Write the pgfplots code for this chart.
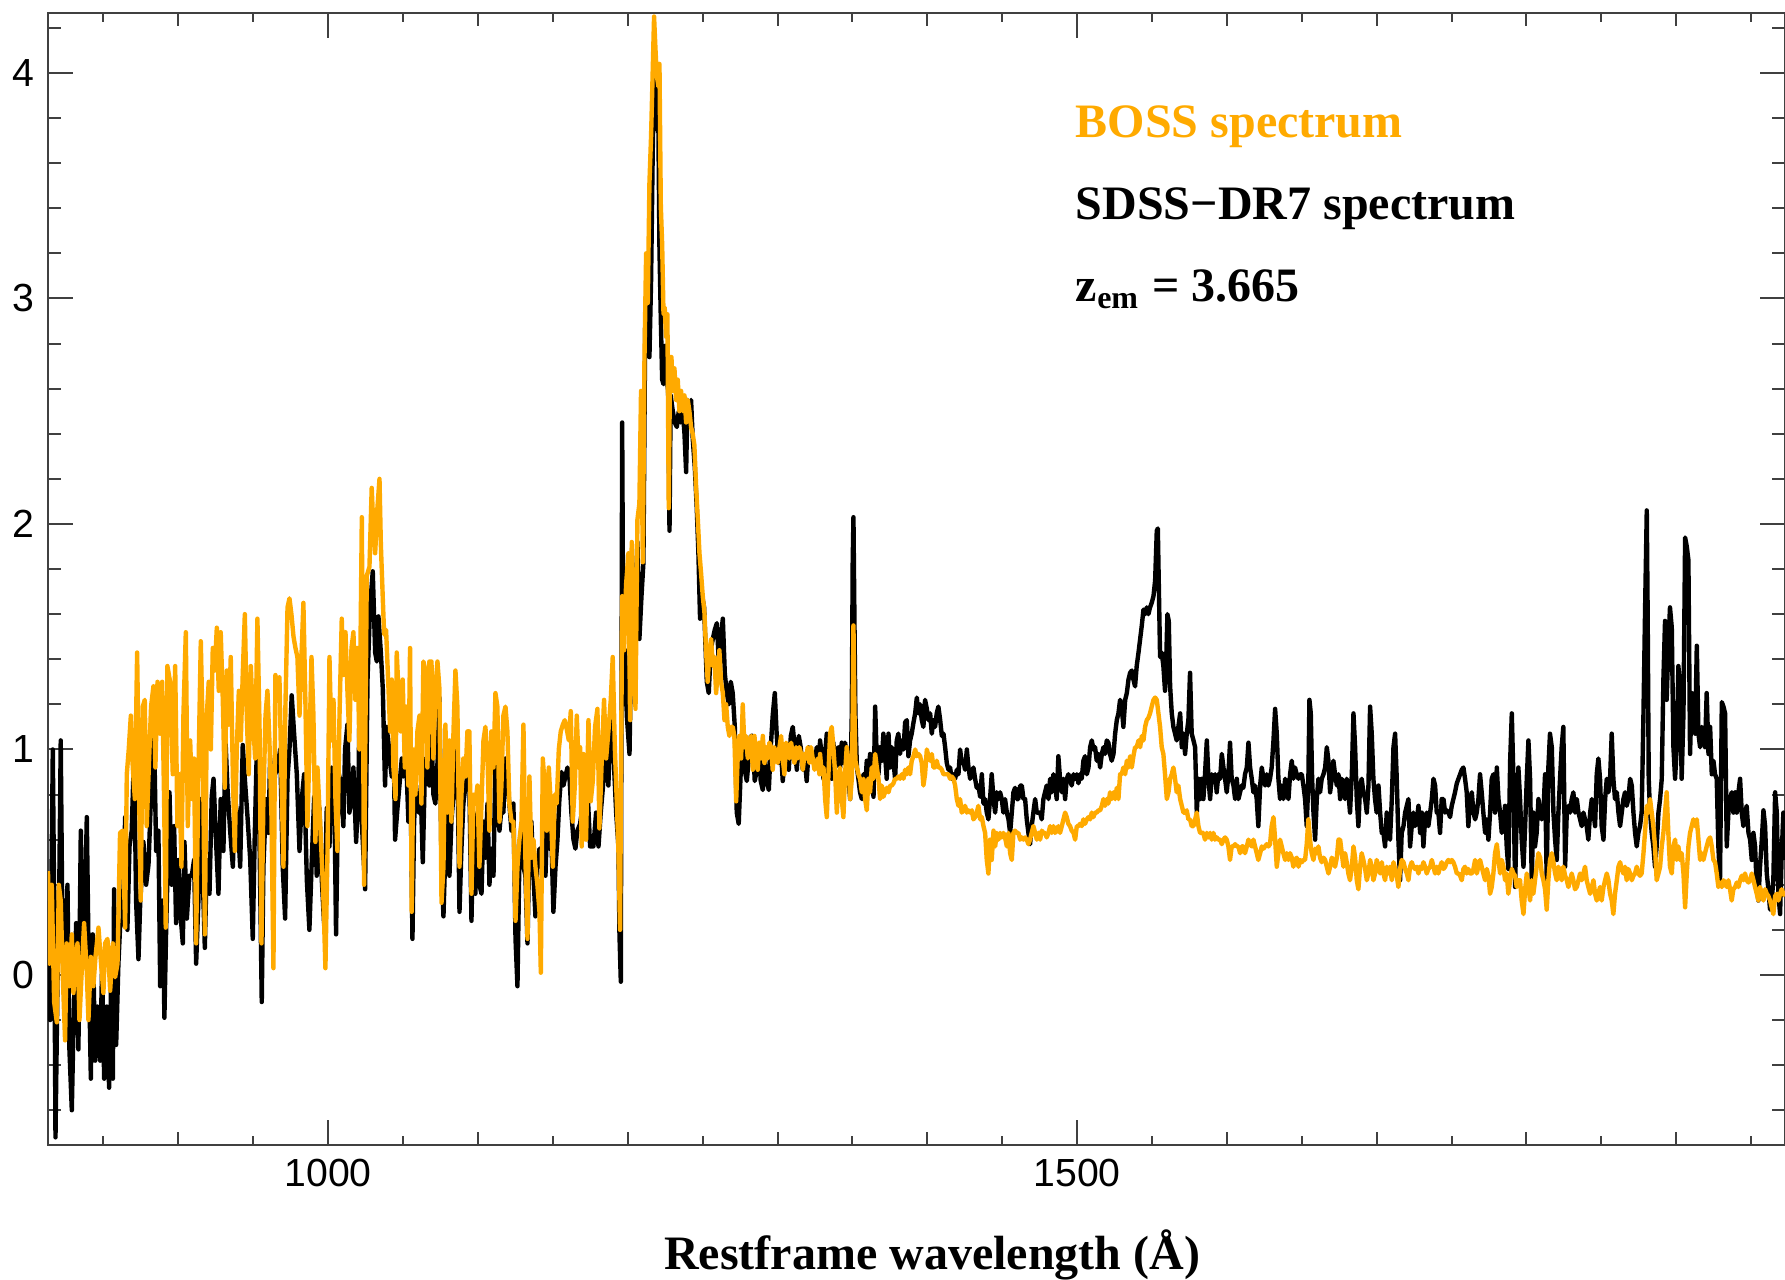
\documentclass[border=0pt]{standalone}
\usepackage{fontspec}
\setmainfont{Liberation Serif}
\setsansfont{Liberation Sans}
\usepackage{pgfplots}
\pgfplotsset{compat=1.18}
\definecolor{bossorange}{RGB}{255,170,0}
\begin{document}
\begin{tikzpicture}
\path[use as bounding box] (-12pt,-33.75pt) rectangle (434.25pt,286.25pt);
\begin{axis}[
 at={(0,0)}, anchor=south west,
 scale only axis, width=434.25pt, height=283pt,
 xmin=813, xmax=1972.6, ymin=-0.754, ymax=4.266,
 axis line style={black!75, line width=0.5pt},
 tick align=inside,
 xtick={1000,1500},
 minor xtick={900,1100,1200,1300,1400,1600,1700,1800,1900},
 extra x ticks={850,950,1050,1150,1250,1350,1450,1550,1650,1750,1850,1950},
 extra x tick labels={},
 extra x tick style={major tick length=2.25pt},
 ytick={0,1,2,3,4},
 minor ytick={-0.6,-0.4,-0.2,0.2,0.4,0.6,0.8,1.2,1.4,1.6,1.8,2.2,2.4,2.6,2.8,3.2,3.4,3.6,3.8,4.2},
 major tick length=6.3pt, minor tick length=3.25pt,
 tick style={black!75, line width=0.5pt},
 ticklabel style={font=\sffamily\fontsize{9.8}{11}\selectfont},
 /pgf/number format/assume math mode=true,
 /pgf/number format/1000 sep={},
 xlabel={Restframe wavelength (Å)},
 xlabel style={font=\bfseries\fontsize{12}{14}\selectfont, at={(axis description cs:0.509,0)}, anchor=base, yshift=-31.25pt},
]
% SDSS-DR7 spectrum (black)
\addplot[black, line width=1.1pt, line join=round, mark=none] coordinates {
(813.3,0.33)(814.4,-0.20)(816.2,1.00)(817.1,0.33)(818.0,-0.72)(819.3,-0.05)(820.6,0.44)(821.5,1.04)(822.7,0.14)(823.8,0.33)
(825.1,0.10)(826.0,0.40)(827.3,-0.33)(828.9,-0.60)(830.0,-0.23)(831.8,0.23)(833.3,-0.33)(834.9,0.64)(836.2,0.14)(837.8,0.33)
(838.9,0.70)(840.0,0.14)(841.6,-0.46)(842.9,0.18)(844.5,-0.38)(846.0,-0.14)(847.8,-0.38)(849.1,0.03)(850.5,-0.46)(852.2,-0.14)
(853.8,-0.50)(855.1,-0.05)(856.3,-0.46)(857.1,0.38)(858.5,-0.31)(860.0,0.05)(861.1,0.21)(862.9,0.25)(864.5,0.70)(866.0,0.20)
(867.4,0.57)(868.9,0.64)(870.5,1.00)(871.8,0.33)(873.4,0.07)(874.5,0.31)(876.7,0.59)(878.5,0.40)(880.1,0.49)(882.3,0.89)
(883.8,1.07)(885.2,0.55)(886.7,0.64)(887.9,-0.05)(889.6,0.33)(890.7,-0.19)(891.9,0.21)(894.1,0.81)(895.6,0.40)(897.2,0.66)
(898.5,0.23)(900.1,0.51)(901.2,0.29)(903.0,0.14)(904.1,0.59)(905.7,0.25)(907.4,0.44)(909.0,0.44)(910.5,0.51)(911.9,0.05)
(913.4,0.33)(915.0,0.78)(916.3,0.44)(917.7,0.12)(919.0,0.51)(920.8,0.36)(922.3,0.79)(923.5,0.87)(925.2,0.59)(926.8,0.36)
(928.3,0.78)(930.1,0.55)(931.5,1.04)(932.8,0.83)(934.6,0.64)(936.4,0.48)(937.9,0.78)(939.5,0.70)(941.3,0.48)(943.0,1.02)
(944.6,0.85)(946.2,0.70)(948.0,0.51)(949.7,0.16)(951.0,0.61)(952.8,1.11)(954.2,0.61)(955.7,-0.12)(956.8,0.48)(958.6,0.78)
(960.2,0.63)(961.3,0.96)(963.1,0.76)(964.6,0.89)(966.2,0.92)(968.0,1.00)(969.7,0.48)(971.3,0.25)(972.9,0.87)(974.2,1.00)
(975.7,1.24)(977.3,1.07)(979.1,0.89)(980.9,0.55)(982.4,0.78)(984.0,0.89)(985.8,0.42)(987.5,0.20)(989.1,0.51)(990.7,0.79)
(992.4,0.44)(994.2,0.74)(995.8,0.42)(997.3,0.23)(999.1,0.74)(1000.9,0.57)(1002.4,0.92)(1004.0,0.89)(1005.3,0.18)(1006.9,0.90)
(1008.5,0.85)(1010.2,0.66)(1011.3,1.00)(1012.9,1.11)(1014.2,0.72)(1015.8,0.79)(1016.9,0.92)(1018.7,0.59)(1020.2,0.81)
(1021.4,1.43)(1022.5,0.68)(1024.7,0.38)(1026.3,1.31)(1028.0,1.63)(1029.8,1.79)(1031.4,1.43)(1032.5,1.39)(1033.6,1.59)(1035.2,1.43)
(1036.5,1.27)(1038.0,0.84)(1039.2,1.10)(1041.0,0.96)(1042.5,0.88)(1043.6,1.08)(1044.7,0.60)(1046.3,0.74)(1047.6,0.84)(1049.2,0.96)
(1050.3,0.88)(1052.1,0.96)(1053.6,0.68)(1055.2,0.76)(1056.3,0.16)(1057.4,0.68)(1058.7,0.84)(1060.3,0.72)(1061.9,0.80)(1063.2,0.50)
(1064.8,0.96)(1066.3,0.90)(1067.6,0.84)(1069.0,1.08)(1070.3,0.80)(1071.6,0.76)(1073.0,0.94)(1074.3,1.23)(1075.7,0.48)(1077.0,0.26)
(1078.3,0.56)(1079.7,0.72)(1081.0,0.44)(1082.3,0.68)(1083.7,0.80)(1085.0,1.08)(1086.3,0.96)(1087.7,0.28)(1089.0,0.56)(1090.3,0.76)
(1091.7,0.84)(1093.0,0.88)(1094.3,0.84)(1095.7,0.24)(1097.0,0.68)(1098.3,0.36)(1099.7,0.72)(1101.0,0.40)(1102.4,0.36)(1103.7,0.68)
(1105.0,0.52)(1106.4,0.76)(1107.7,0.40)(1109.0,0.56)(1110.4,0.44)(1111.7,0.96)(1113.0,0.74)(1114.4,0.64)(1115.7,0.74)(1117.0,0.72)
(1118.4,0.96)(1119.7,0.86)(1121.0,0.76)(1122.4,0.64)(1123.7,0.76)(1125.1,0.16)(1126.4,-0.05)(1127.7,0.52)(1129.1,0.64)(1130.4,0.48)
(1131.7,0.44)(1133.1,0.14)(1134.4,0.58)(1135.7,0.68)(1137.1,0.44)(1138.4,0.26)(1139.7,0.48)(1141.1,0.56)(1142.4,0.48)(1143.7,0.68)
(1145.1,0.44)(1146.4,0.72)(1147.8,0.56)(1149.1,0.60)(1150.4,0.28)(1151.8,0.48)(1153.1,0.60)(1154.4,0.78)(1155.8,0.90)(1157.1,0.84)
(1158.4,0.88)(1159.8,0.92)(1161.1,0.88)(1162.4,0.72)(1163.8,0.60)(1165.1,0.56)(1166.4,0.64)
(1168.2,0.67)(1170.4,0.77)(1172.7,0.89)(1174.9,0.57)(1177.1,0.57)(1178.9,0.72)(1180.5,0.57)(1182.0,0.72)(1183.8,0.86)(1185.6,1.01)
(1187.1,0.84)(1188.7,1.20)(1190.5,0.98)(1192.3,0.72)(1193.8,0.57)(1194.5,0.18)(1195.4,-0.03)(1196.3,2.45)(1197.2,1.20)(1198.3,1.44)
(1199.4,1.15)(1201.2,0.98)(1202.3,1.44)(1203.8,1.73)(1205.2,1.68)(1206.5,1.92)(1207.8,1.49)(1209.2,1.68)(1210.5,1.83)(1211.8,2.98)
(1213.4,3.00)(1214.5,2.74)(1215.6,3.08)(1216.7,3.65)(1217.6,3.99)(1218.5,3.96)(1219.4,3.75)(1220.5,3.75)(1221.2,3.22)(1222.1,2.91)
(1223.0,2.64)(1223.9,2.62)(1225.0,2.79)(1226.1,2.64)(1227.0,2.59)(1227.9,1.97)(1228.7,2.57)(1230.1,2.50)(1231.4,2.45)(1232.8,2.43)
(1234.1,2.50)(1235.4,2.45)(1236.8,2.50)(1237.9,2.40)(1239.0,2.23)(1239.9,2.55)(1241.2,2.50)(1242.3,2.55)(1243.4,2.38)(1244.8,2.25)
(1246.1,2.07)(1247.2,1.87)(1248.3,1.58)(1249.7,1.68)(1251.0,1.63)(1252.8,1.30)(1254.1,1.25)(1255.4,1.44)(1256.8,1.49)(1258.1,1.53)
(1259.5,1.56)(1260.8,1.39)(1262.1,1.49)(1263.5,1.58)(1264.8,1.34)(1266.1,1.25)(1267.5,1.20)(1268.8,1.30)(1270.1,1.25)(1271.5,1.10)
(1272.8,0.72)(1274.1,0.67)(1275.5,0.91)(1276.8,1.01)(1278.1,0.91)(1279.5,0.86)(1280.8,0.96)(1282.2,1.06)(1283.5,1.06)(1284.8,0.86)
(1286.2,0.91)(1287.5,1.01)(1288.8,0.86)(1290.2,0.82)(1291.5,0.96)(1292.8,0.86)(1294.2,0.82)(1295.5,1.01)(1296.8,1.15)(1298.2,1.25)
(1299.5,1.06)(1300.8,0.94)(1302.2,1.01)(1303.5,0.86)(1304.8,0.96)(1306.2,1.01)(1307.5,0.91)(1308.9,1.06)(1310.2,1.10)(1311.5,1.01)
(1312.9,0.91)(1314.2,1.06)(1315.5,1.01)(1316.9,0.91)(1318.2,0.96)(1319.5,0.86)(1320.9,1.01)(1322.2,0.96)(1323.5,0.98)(1324.9,0.94)
(1326.2,1.01)(1327.6,0.91)
(1328.4,1.04)(1329.6,0.97)(1330.7,0.87)(1331.8,0.98)(1332.9,1.07)(1334.0,0.89)(1335.1,1.01)(1336.2,0.87)(1337.3,1.03)(1338.5,0.92)
(1339.6,1.00)(1340.7,1.01)(1341.8,0.92)(1342.9,1.03)(1344.0,0.94)(1345.1,1.03)(1346.2,0.98)(1347.4,0.87)(1348.5,0.78)(1349.6,1.16)
(1350.2,1.83)(1350.7,2.03)(1351.4,1.55)(1352.0,1.16)(1353.0,0.92)(1354.0,0.87)(1355.1,0.81)(1356.3,0.78)(1357.4,0.89)(1358.5,0.83)
(1359.6,0.95)(1360.7,0.87)(1361.8,0.98)(1362.9,0.87)(1364.1,0.79)(1365.2,1.19)(1366.3,0.95)(1367.4,0.89)(1368.5,1.01)(1369.6,0.95)
(1370.7,1.07)(1371.8,0.98)(1372.9,0.87)(1374.1,1.07)(1375.2,0.92)(1376.3,1.01)(1377.4,0.95)(1378.5,0.87)(1379.6,1.04)(1380.7,1.07)
(1381.8,0.98)(1383.0,1.04)(1384.1,1.00)(1385.2,1.12)(1386.3,1.13)(1387.4,0.97)(1388.5,1.04)(1389.6,1.07)(1390.8,1.12)(1391.9,1.16)
(1393.0,1.23)(1394.1,1.16)(1395.2,1.20)(1396.3,1.13)(1397.4,1.10)(1398.5,1.22)(1399.7,1.18)(1400.8,1.13)(1401.9,1.16)(1403.0,1.07)
(1404.1,1.13)(1405.2,1.10)(1406.3,1.16)(1407.4,1.19)(1408.6,1.13)(1409.7,1.06)(1410.8,1.07)(1411.9,1.01)(1413.0,0.94)(1414.1,0.91)
(1415.2,0.92)(1416.3,0.87)(1417.5,0.89)(1418.6,0.87)(1419.7,0.91)(1420.8,0.89)(1421.9,1.00)(1423.0,0.94)(1424.1,0.95)(1425.2,0.91)
(1426.4,1.00)(1427.5,0.92)(1428.6,0.87)(1429.7,0.89)(1430.8,0.92)(1431.9,0.87)(1433.0,0.83)(1434.1,0.84)(1435.3,0.79)(1436.4,0.89)
(1437.5,0.76)(1438.6,0.78)(1439.7,0.72)(1440.8,0.69)(1441.9,0.78)(1443.0,0.89)(1444.2,0.78)(1445.3,0.72)(1446.4,0.81)(1447.5,0.78)
(1448.6,0.81)(1449.7,0.78)(1450.8,0.72)(1451.9,0.78)(1453.1,0.72)(1454.2,0.69)(1455.3,0.63)(1456.4,0.72)(1457.5,0.81)(1458.6,0.83)
(1459.7,0.78)(1460.8,0.78)(1462.0,0.84)(1463.1,0.84)(1464.2,0.78)(1465.3,0.78)(1466.4,0.69)(1467.5,0.63)(1468.6,0.58)(1469.7,0.66)
(1470.8,0.72)(1472.0,0.78)(1473.1,0.72)(1474.2,0.72)(1475.3,0.72)(1476.4,0.69)(1477.5,0.78)(1478.6,0.81)(1479.7,0.84)(1480.9,0.78)
(1482.0,0.87)(1483.1,0.81)(1484.2,0.89)(1485.3,0.84)(1486.4,0.78)(1487.5,0.97)(1488.6,0.87)(1489.8,0.81)(1490.9,0.87)(1492.0,0.78)
(1493.1,0.87)(1494.2,0.89)(1495.3,0.87)(1496.4,0.84)(1497.6,0.89)(1498.7,0.87)(1499.8,0.89)(1500.9,0.85)(1502.0,0.89)(1503.1,0.87)
(1504.2,0.95)(1505.3,0.97)(1506.5,0.89)(1507.6,0.92)(1508.7,1.01)(1509.8,1.04)(1510.9,1.00)(1512.0,1.01)(1513.1,0.95)(1514.2,0.98)
(1515.4,0.92)(1516.5,0.98)(1517.6,1.01)(1518.7,0.98)(1519.8,1.04)(1520.9,1.03)(1522.0,0.98)(1523.1,0.95)(1524.3,0.98)(1525.4,1.07)
(1526.5,1.13)(1527.6,1.16)(1528.7,1.22)(1529.8,1.19)(1530.9,1.10)(1532.1,1.22)(1533.2,1.25)(1534.3,1.31)(1535.4,1.34)(1536.5,1.35)
(1537.6,1.31)(1538.7,1.28)(1539.8,1.37)(1541.0,1.43)(1542.1,1.49)(1543.2,1.55)(1544.3,1.62)(1545.4,1.60)(1546.5,1.63)(1547.6,1.60)
(1548.7,1.63)(1549.8,1.65)(1551.0,1.68)(1552.1,1.75)(1553.2,1.97)(1553.9,1.98)(1554.5,1.75)(1555.4,1.41)
(1556.5,1.43)(1557.6,1.37)(1558.7,1.26)(1559.4,1.37)(1560.3,1.60)(1561.2,1.57)(1562.1,1.28)(1563.2,1.16)(1564.3,1.10)(1565.4,1.07)
(1566.5,1.04)(1567.6,1.10)(1568.8,1.16)(1569.9,1.01)(1571.0,1.07)(1572.1,0.98)(1573.2,1.07)(1574.3,1.13)(1575.4,1.34)(1576.5,1.07)
(1577.7,1.04)(1578.8,1.01)(1579.9,0.72)(1581.0,0.87)(1582.1,0.78)(1583.2,0.87)(1584.3,0.78)(1585.4,0.89)(1586.6,1.04)(1587.7,0.87)
(1588.8,0.78)(1589.9,0.89)(1591.0,0.87)(1592.1,0.89)(1593.2,0.81)(1594.3,0.89)(1595.5,0.87)(1596.6,0.98)(1597.7,0.92)(1598.8,0.87)
(1599.9,0.81)(1601.0,0.89)(1602.1,1.03)(1603.2,0.87)(1604.4,0.84)(1605.5,0.78)(1606.6,0.87)(1607.7,0.78)(1608.8,0.81)(1609.9,0.84)
(1611.0,0.83)(1612.1,0.89)(1613.3,0.92)(1614.4,1.03)(1615.5,0.92)(1616.6,0.87)(1617.7,0.81)(1618.8,0.84)(1619.9,0.78)(1621.0,0.66)
(1622.2,0.84)(1623.3,0.92)(1624.4,0.87)(1625.5,0.84)(1626.6,0.89)(1627.7,0.84)(1628.8,0.87)(1629.9,0.92)(1631.1,1.04)(1632.2,1.18)
(1633.3,1.07)(1634.4,0.87)(1635.5,0.78)(1636.6,0.84)(1637.7,0.78)(1638.9,0.87)(1640.0,0.81)(1641.1,0.78)(1642.2,0.89)(1643.3,0.95)
(1644.4,0.87)(1645.5,0.92)(1646.6,0.89)(1647.8,0.87)(1648.9,0.89)(1650.0,0.89)(1651.1,0.84)(1652.2,0.78)(1653.3,0.66)(1654.4,0.87)
(1655.1,1.22)(1656.0,1.16)(1656.9,0.87)(1657.8,0.72)(1658.9,0.60)(1660.0,0.78)(1661.1,0.87)(1662.2,0.81)(1663.3,0.87)(1664.5,0.89)
(1665.6,0.92)(1666.7,1.01)(1667.8,0.95)(1668.9,0.81)(1670.0,0.87)(1671.1,0.95)(1672.2,0.89)(1673.4,0.84)(1674.5,0.89)(1675.6,0.78)
(1676.7,0.87)(1677.8,0.84)(1678.9,0.78)(1680.0,0.87)(1681.1,0.81)(1682.2,0.72)(1683.4,0.89)(1684.5,1.16)(1685.6,1.01)(1686.7,0.78)
(1687.8,0.66)(1688.9,0.84)(1690.0,0.87)(1691.1,0.81)(1692.3,0.78)(1693.4,0.72)(1694.5,0.84)(1695.6,1.19)(1696.7,1.07)(1697.8,0.87)
(1698.9,0.78)(1700.0,0.72)(1701.2,0.84)(1702.3,0.72)(1703.4,0.63)(1704.5,0.63)(1705.6,0.57)(1706.7,0.72)(1707.8,0.63)(1708.9,0.60)
(1710.1,0.78)(1711.2,1.01)(1712.3,1.07)(1713.4,0.87)(1714.5,0.60)(1715.6,0.42)(1716.7,0.63)(1717.9,0.66)(1719.0,0.72)(1720.1,0.75)
(1721.2,0.78)(1722.3,0.57)(1723.4,0.66)(1724.5,0.72)(1725.6,0.66)(1726.8,0.69)(1727.9,0.75)(1729.0,0.63)(1730.1,0.72)(1731.2,0.57)
(1732.3,0.69)(1733.4,0.72)(1734.5,0.66)(1735.7,0.72)(1736.8,0.78)(1737.9,0.87)(1739.0,0.84)(1740.1,0.72)(1741.2,0.72)(1742.3,0.63)
(1743.4,0.78)(1744.6,0.78)(1745.7,0.72)(1746.8,0.73)(1747.9,0.72)(1749.0,0.70)(1750.1,0.75)(1751.2,0.78)(1752.3,0.81)(1753.5,0.85)
(1754.6,0.87)(1755.7,0.89)(1756.8,0.91)(1757.9,0.92)(1759.0,0.87)(1760.1,0.81)(1761.2,0.66)(1762.3,0.78)
(1763.5,0.81)(1764.6,0.72)(1765.7,0.69)(1766.8,0.72)(1767.9,0.78)(1769.0,0.89)(1770.1,0.81)(1771.2,0.72)(1772.4,0.63)(1773.5,0.69)
(1774.6,0.60)(1775.7,0.72)(1776.8,0.87)(1777.9,0.89)(1779.0,0.72)(1780.2,0.92)(1781.3,0.78)(1782.4,0.72)(1783.5,0.63)(1784.6,0.66)
(1785.7,0.75)(1786.8,0.57)(1787.9,0.47)(1789.1,0.95)(1790.2,1.16)(1791.3,0.87)(1792.4,0.39)(1793.5,0.72)(1794.6,0.92)(1795.7,0.78)
(1796.8,0.60)(1798.0,0.48)(1799.1,0.66)(1800.2,0.87)(1801.3,1.04)(1802.4,0.87)(1803.5,0.42)(1804.6,0.72)(1805.7,0.57)(1806.8,0.63)
(1808.0,0.78)(1809.1,0.72)(1810.2,0.69)(1811.3,0.72)(1812.4,0.89)(1813.5,0.42)(1814.6,0.92)(1815.7,1.07)(1816.9,1.01)(1818.0,0.72)
(1819.1,0.60)(1820.2,0.51)(1821.3,0.72)(1822.4,0.87)(1823.5,1.01)(1824.6,1.10)(1825.8,0.48)(1826.9,0.72)(1828.0,0.75)(1829.1,0.72)
(1830.2,0.78)(1831.3,0.81)(1832.4,0.72)(1833.6,0.78)(1834.7,0.72)(1835.8,0.69)(1836.9,0.66)(1838.0,0.72)(1839.1,0.69)(1840.2,0.66)
(1841.3,0.60)(1842.5,0.72)(1843.6,0.78)(1844.7,0.72)(1845.8,0.66)(1846.9,0.89)(1848.0,0.96)(1849.1,0.87)(1850.2,0.66)(1851.4,0.60)
(1852.5,0.78)(1853.6,0.87)(1854.7,0.81)(1855.8,0.87)(1856.9,1.07)(1858.0,0.87)(1859.1,0.78)(1860.3,0.81)(1861.4,0.72)(1862.5,0.66)
(1863.6,0.72)(1864.7,0.78)(1865.8,0.81)(1866.9,0.75)(1868.0,0.78)(1869.2,0.87)(1870.3,0.84)(1871.4,0.72)(1872.5,0.63)(1873.6,0.57)
(1874.7,0.63)(1875.8,0.66)(1876.9,0.72)(1878.1,1.16)(1879.2,1.63)(1880.3,2.06)(1880.9,1.60)(1881.6,0.87)(1882.5,0.72)(1883.6,0.63)
(1884.7,0.57)(1885.8,0.48)(1886.9,0.57)(1888.1,0.72)(1889.2,0.78)(1890.3,0.87)(1891.4,1.31)(1892.5,1.57)(1893.6,1.22)(1894.7,1.46)
(1895.8,1.63)(1897.0,1.54)(1898.1,1.01)(1899.2,0.87)(1900.3,1.01)(1901.4,1.37)(1902.5,1.28)(1903.6,0.87)(1904.8,1.16)(1905.9,1.94)
(1907.0,1.90)(1908.1,1.84)(1909.2,0.98)(1910.3,1.25)(1911.4,1.16)(1912.6,1.07)(1913.7,1.46)(1914.8,1.07)(1915.9,1.01)(1917.0,1.10)
(1918.1,1.07)(1919.2,1.01)(1920.3,1.25)(1921.5,0.98)(1922.6,1.10)(1923.7,0.89)(1924.8,0.95)(1925.9,0.89)(1927.0,0.87)(1928.1,0.57)
(1929.2,0.42)(1930.4,1.21)(1931.5,1.19)(1932.6,1.16)(1933.7,0.57)(1934.8,0.72)(1935.9,0.78)(1937.0,0.81)(1938.1,0.72)(1939.3,0.81)
(1940.4,0.72)(1941.5,0.81)(1942.6,0.87)(1943.7,0.72)(1944.8,0.66)(1945.9,0.72)(1947.0,0.75)(1948.2,0.63)(1949.3,0.60)(1950.4,0.51)
(1951.5,0.63)(1952.6,0.57)(1953.7,0.39)(1954.8,0.33)(1955.9,0.48)(1957.1,0.60)(1958.2,0.73)(1959.3,0.66)(1960.4,0.45)(1961.5,0.38)
(1962.6,0.29)(1963.7,0.33)(1964.8,0.42)(1966.0,0.81)(1967.1,0.72)(1968.2,0.36)(1969.3,0.27)(1970.4,0.54)(1971.5,0.72)(1972.6,0.51)
};
% BOSS spectrum (orange)
\addplot[bossorange, line width=1.1pt, line join=round, mark=none] coordinates {
(813.0,0.46)(814.0,0.05)(815.5,0.40)(817.1,-0.12)(818.9,-0.21)(820.2,0.40)(821.5,0.33)(822.9,-0.01)(824.4,-0.29)(825.5,0.14)
(827.3,-0.05)(828.9,0.18)(830.0,-0.08)(831.3,0.08)(832.7,0.14)(834.0,-0.20)(835.6,0.03)(837.1,0.23)(838.9,0.01)(840.0,-0.20)
(841.6,0.08)(843.3,-0.05)(844.7,0.08)(846.7,0.21)(848.2,0.07)(850.0,-0.08)(851.1,0.14)(852.7,0.16)(854.5,-0.07)(856.3,0.14)
(857.8,-0.01)(859.4,0.05)(861.1,0.63)(862.9,0.64)(864.5,0.21)(865.6,0.89)(866.9,1.00)(868.3,1.15)(869.6,0.92)(871.0,0.78)
(872.5,1.43)(873.6,0.91)(874.9,0.33)(876.3,1.19)(877.6,1.22)(878.9,0.66)(880.3,0.92)(881.8,1.19)(883.4,1.28)(884.7,0.92)
(886.1,1.30)(887.8,1.07)(889.2,1.30)(890.5,0.78)(891.6,0.21)(892.7,1.37)(894.5,1.30)(896.3,0.89)(897.9,1.37)(899.4,0.66)
(900.7,0.89)(902.1,0.48)(903.4,1.15)(905.0,1.52)(906.3,0.66)(907.9,1.04)(909.2,0.78)(910.5,0.96)(911.9,0.14)(913.4,0.89)
(915.0,1.48)(916.3,1.07)(917.7,0.18)(919.0,1.15)(920.3,1.30)(921.7,1.00)(923.0,1.45)(924.3,1.35)(925.7,1.54)(927.0,1.26)
(928.3,1.52)(929.7,1.22)(931.0,0.83)(932.4,1.35)(933.7,1.11)(935.0,1.41)(936.4,0.89)(937.7,0.55)(939.0,1.00)(940.4,1.26)
(941.7,1.04)(943.0,1.33)(944.4,1.60)(945.7,1.15)(947.0,0.89)(948.4,1.37)(949.7,1.15)(951.3,0.96)(952.8,1.58)(954.2,1.11)
(955.5,0.14)(956.8,0.78)(958.2,1.15)(959.5,1.26)(960.8,1.04)(962.2,0.70)(963.5,0.03)(964.8,1.33)(966.2,1.26)(967.5,1.32)
(968.8,0.89)(970.2,0.48)(971.5,1.19)(972.9,1.63)(974.2,1.67)(975.5,1.60)(976.9,1.50)(978.2,1.45)(979.5,1.41)(980.9,1.15)
(982.2,1.41)(983.5,1.65)(984.9,1.19)(986.2,0.66)(987.5,1.00)(988.9,1.41)(990.2,1.15)(991.5,0.59)(992.9,0.92)(994.2,0.74)
(995.8,0.51)(996.9,0.33)(998.2,0.03)(999.6,0.55)(1000.9,1.41)(1002.2,1.04)(1003.6,1.22)(1004.9,0.78)(1006.2,0.55)(1007.6,1.15)
(1009.1,1.58)(1010.2,1.33)(1011.6,1.52)(1012.9,1.26)(1014.2,1.04)(1015.6,1.45)(1016.9,1.52)(1018.2,1.22)(1019.6,1.45)(1020.9,1.00)
(1022.5,2.03)(1024.0,0.40)(1025.8,1.77)(1027.6,1.81)(1029.1,2.16)(1030.3,1.97)(1031.4,1.87)(1032.9,2.07)(1034.3,2.20)(1035.2,1.91)
(1036.5,1.67)(1037.4,1.51)(1038.7,1.53)(1040.3,1.27)(1041.4,1.08)(1042.5,1.31)(1043.6,0.92)(1045.0,0.78)(1045.8,1.43)(1047.2,1.23)
(1048.5,1.08)(1049.8,1.31)(1051.2,0.92)(1052.5,1.19)(1053.6,0.84)(1054.7,1.45)(1055.8,0.28)(1057.0,1.00)(1058.3,0.80)(1059.6,1.08)
(1061.0,1.15)(1062.3,0.76)(1063.6,1.39)(1065.0,1.35)(1066.3,0.92)(1067.6,1.39)(1069.0,1.39)(1070.3,0.96)(1071.6,1.27)(1073.0,1.39)
(1074.3,1.27)(1075.7,0.32)(1077.0,0.48)(1078.3,1.11)(1079.7,0.72)(1081.0,1.04)(1082.3,0.68)(1083.7,1.08)(1085.0,1.35)(1086.3,1.19)
(1087.7,0.48)(1089.0,0.80)(1090.3,0.96)(1091.7,0.88)(1093.0,1.08)(1094.3,1.08)(1095.7,0.36)(1097.0,0.80)(1098.3,0.76)(1099.7,0.84)
(1101.0,0.48)(1102.4,0.76)(1103.7,1.04)(1105.0,1.10)(1106.4,0.96)(1107.7,0.64)(1109.0,1.08)(1110.4,0.92)(1111.7,1.25)(1113.0,1.19)
(1114.4,0.68)(1115.7,0.84)(1117.0,1.15)(1118.4,1.19)(1119.7,1.08)(1121.0,0.76)(1122.4,0.68)(1123.7,0.68)(1125.1,0.24)(1126.4,0.48)
(1127.7,0.60)(1129.1,0.68)(1130.4,1.11)(1131.7,0.52)(1133.1,0.16)(1134.4,0.88)(1135.7,0.52)(1137.1,0.60)(1138.4,0.48)(1139.7,0.40)
(1141.1,0.28)(1142.0,0.01)(1143.3,0.96)(1144.6,0.84)(1146.0,0.64)(1147.3,0.92)(1148.6,0.76)(1150.0,0.48)(1151.3,0.80)(1152.6,0.76)
(1154.0,1.00)(1155.3,1.08)(1156.7,1.11)(1158.0,1.13)(1159.3,1.09)(1160.7,1.04)(1162.0,1.17)(1163.3,0.68)(1164.7,0.84)(1166.0,1.15)
(1167.3,0.92)(1168.2,1.01)(1169.3,0.57)(1170.4,0.98)(1172.2,0.60)(1173.8,1.13)(1175.3,0.77)(1176.7,0.86)(1178.2,1.10)(1179.8,1.18)
(1181.1,0.65)(1182.7,0.96)(1184.2,1.22)(1185.6,0.96)(1187.1,1.08)(1188.7,1.22)(1190.0,1.41)(1191.4,1.01)(1192.7,0.77)(1193.8,0.55)
(1194.9,0.20)(1196.3,1.68)(1197.6,1.44)(1198.9,1.73)(1200.5,1.87)(1201.6,1.13)(1202.7,1.92)(1203.8,1.58)(1205.2,1.18)(1206.5,2.02)
(1207.8,2.09)(1208.9,2.59)(1210.1,1.83)(1211.2,2.74)(1212.3,3.20)(1213.4,2.98)(1214.5,3.51)(1215.6,3.72)(1216.7,4.01)(1217.6,4.25)
(1218.5,4.11)(1219.4,3.99)(1220.5,3.94)(1221.2,4.04)(1222.1,3.41)(1223.0,3.24)(1223.9,2.93)(1224.7,2.96)(1225.6,2.83)(1226.5,2.93)
(1227.4,2.07)(1228.3,2.74)(1229.2,2.74)(1230.1,2.59)(1231.2,2.69)(1232.3,2.55)(1233.4,2.64)(1234.5,2.50)(1235.6,2.59)(1236.8,2.50)
(1237.9,2.57)(1239.0,2.45)(1240.1,2.55)(1241.2,2.50)(1242.3,2.43)(1243.4,2.40)(1244.5,2.35)(1245.7,2.16)(1246.8,2.02)(1247.9,1.87)
(1249.0,1.78)(1250.1,1.68)(1251.2,1.61)(1252.3,1.44)(1253.4,1.30)(1254.6,1.44)(1255.7,1.49)(1256.8,1.37)(1257.9,1.41)(1259.0,1.25)
(1260.1,1.34)(1261.2,1.44)(1262.3,1.30)(1263.5,1.25)(1264.6,1.13)(1265.7,1.20)(1266.8,1.10)(1267.9,1.06)(1269.0,1.10)(1270.1,1.10)
(1271.2,1.06)(1272.4,0.77)(1273.5,0.98)(1274.6,1.06)(1275.7,0.96)(1276.8,1.20)(1277.9,1.01)(1279.0,1.06)(1280.2,0.96)(1281.3,1.01)
(1282.4,1.06)(1283.5,0.91)(1284.6,1.06)(1285.7,0.98)(1286.8,0.91)(1287.9,1.03)(1289.1,0.96)(1290.2,1.06)(1291.3,0.94)(1292.4,1.01)
(1293.5,0.96)(1294.6,1.03)(1295.7,1.01)(1296.8,0.91)(1297.9,1.01)(1299.1,0.96)(1300.2,0.94)(1301.3,1.01)(1302.4,1.06)(1303.5,0.96)
(1304.6,0.89)(1305.7,1.03)(1306.8,1.01)(1307.9,0.96)(1309.1,1.03)(1310.2,0.98)(1311.3,0.94)(1312.4,1.01)(1313.5,0.96)(1314.6,1.01)
(1315.8,0.98)(1316.9,0.91)(1318.0,0.98)(1319.1,0.96)(1320.2,1.01)(1321.3,0.94)(1322.4,1.01)(1323.5,0.96)(1324.7,0.91)(1325.8,0.94)
(1326.9,0.96)(1328.0,0.89)
(1328.4,0.98)(1329.6,0.89)(1330.7,0.92)(1331.8,0.78)(1332.9,0.70)(1334.0,0.89)(1335.1,1.07)(1336.2,1.10)(1337.3,1.01)(1338.5,0.89)
(1339.6,0.72)(1340.7,0.87)(1341.8,0.92)(1342.9,0.78)(1344.0,0.70)(1345.1,0.89)(1346.2,1.01)(1347.4,0.92)(1348.5,0.78)(1349.6,0.87)
(1350.2,1.16)(1350.7,1.55)(1351.4,1.16)(1352.0,0.95)(1353.0,0.92)(1354.0,0.89)(1355.1,0.87)(1356.3,0.81)(1357.4,0.87)(1358.5,0.78)
(1359.6,0.73)(1360.7,0.87)(1361.8,0.81)(1362.9,0.92)(1364.1,0.87)(1365.2,0.98)(1366.3,0.92)(1367.4,0.87)(1368.5,0.78)(1369.6,0.84)
(1370.7,0.79)(1371.8,0.81)(1372.9,0.83)(1374.1,0.81)(1375.2,0.84)(1376.3,0.84)(1377.4,0.85)(1378.5,0.87)(1379.6,0.87)(1380.7,0.88)
(1381.8,0.87)(1383.0,0.89)(1384.1,0.87)(1385.2,0.91)(1386.3,0.89)(1387.4,0.92)(1388.5,0.89)(1389.6,0.95)(1390.8,0.97)(1391.9,1.00)
(1393.0,0.97)(1394.1,0.98)(1395.2,0.97)(1396.3,0.94)(1397.4,0.84)(1398.5,0.89)(1399.7,1.00)(1400.8,0.97)(1401.9,0.95)(1403.0,0.98)
(1404.1,0.92)(1405.2,0.92)(1406.3,0.95)(1407.4,0.92)(1408.6,0.92)(1409.7,0.91)(1410.8,0.89)(1411.9,0.89)(1413.0,0.89)(1414.1,0.89)
(1415.2,0.87)(1416.3,0.88)(1417.5,0.87)(1418.6,0.84)(1419.7,0.78)(1420.8,0.75)(1421.9,0.78)(1423.0,0.72)(1424.1,0.73)(1425.2,0.75)
(1426.4,0.72)(1427.5,0.73)(1428.6,0.72)(1429.7,0.73)(1430.8,0.69)(1431.9,0.70)(1433.0,0.72)(1434.1,0.75)(1435.3,0.69)(1436.4,0.70)
(1437.5,0.66)(1438.6,0.63)(1439.7,0.51)(1440.8,0.45)(1441.9,0.60)(1443.0,0.51)(1444.2,0.64)(1445.3,0.57)(1446.4,0.63)(1447.5,0.60)
(1448.6,0.63)(1449.7,0.61)(1450.8,0.63)(1451.9,0.61)(1453.1,0.57)(1454.2,0.63)(1455.3,0.54)(1456.4,0.51)(1457.5,0.63)(1458.6,0.64)
(1459.7,0.63)(1460.8,0.63)(1462.0,0.60)(1463.1,0.61)(1464.2,0.60)(1465.3,0.61)(1466.4,0.60)(1467.5,0.58)(1468.6,0.60)(1469.7,0.63)
(1470.8,0.66)(1472.0,0.63)(1473.1,0.60)(1474.2,0.63)(1475.3,0.60)(1476.4,0.64)(1477.5,0.63)(1478.6,0.63)(1479.7,0.61)(1480.9,0.63)
(1482.0,0.66)(1483.1,0.63)(1484.2,0.66)(1485.3,0.63)(1486.4,0.64)(1487.5,0.66)(1488.6,0.63)(1489.8,0.66)(1490.9,0.69)(1492.0,0.72)
(1493.1,0.70)(1494.2,0.67)(1495.3,0.66)(1496.4,0.64)(1497.6,0.63)(1498.7,0.60)(1499.8,0.66)(1500.9,0.66)(1502.0,0.67)(1503.1,0.66)
(1504.2,0.69)(1505.3,0.67)(1506.5,0.69)(1507.6,0.70)(1508.7,0.69)(1509.8,0.72)(1510.9,0.70)(1512.0,0.72)(1513.1,0.72)(1514.2,0.73)
(1515.4,0.73)(1516.5,0.75)(1517.6,0.78)(1518.7,0.75)(1519.8,0.78)(1520.9,0.76)(1522.0,0.81)(1523.1,0.78)(1524.3,0.81)(1525.4,0.78)
(1526.5,0.83)(1527.6,0.78)(1528.7,0.89)(1529.8,0.89)(1530.9,0.92)(1532.1,0.89)(1533.2,0.95)(1534.3,0.92)(1535.4,0.97)(1536.5,0.92)
(1537.6,0.97)(1538.7,1.01)(1539.8,1.01)(1541.0,1.04)(1542.1,1.01)(1543.2,1.06)(1544.3,1.04)(1545.4,1.10)(1546.5,1.13)(1547.6,1.14)
(1548.7,1.16)(1549.8,1.19)(1551.0,1.22)(1552.1,1.23)(1553.2,1.22)(1554.3,1.16)(1555.4,1.10)
(1556.5,1.01)(1557.6,0.98)(1558.7,0.89)(1559.9,0.78)(1561.0,0.81)(1562.1,0.87)(1563.2,0.89)(1564.3,0.92)(1565.4,0.87)(1566.5,0.81)
(1567.6,0.84)(1568.8,0.78)(1569.9,0.75)(1571.0,0.72)(1572.1,0.72)(1573.2,0.73)(1574.3,0.69)(1575.4,0.69)(1576.5,0.66)(1577.7,0.66)
(1578.8,0.69)(1579.9,0.72)(1581.0,0.66)(1582.1,0.63)(1583.2,0.63)(1584.3,0.63)(1585.4,0.60)(1586.6,0.63)(1587.7,0.61)(1588.8,0.63)
(1589.9,0.60)(1591.0,0.63)(1592.1,0.60)(1593.2,0.61)(1594.3,0.60)(1595.5,0.60)(1596.6,0.58)(1597.7,0.60)(1598.8,0.61)(1599.9,0.60)
(1601.0,0.57)(1602.1,0.51)(1603.2,0.57)(1604.4,0.57)(1605.5,0.58)(1606.6,0.57)(1607.7,0.57)(1608.8,0.54)(1609.9,0.57)(1611.0,0.57)
(1612.1,0.54)(1613.3,0.57)(1614.4,0.60)(1615.5,0.58)(1616.6,0.57)(1617.7,0.60)(1618.8,0.57)(1619.9,0.54)(1621.0,0.51)(1622.2,0.54)
(1623.3,0.57)(1624.4,0.56)(1625.5,0.57)(1626.6,0.58)(1627.7,0.57)(1628.8,0.58)(1629.9,0.66)(1631.1,0.70)(1632.2,0.60)(1633.3,0.48)
(1634.4,0.54)(1635.5,0.60)(1636.6,0.57)(1637.7,0.54)(1638.9,0.51)(1640.0,0.54)(1641.1,0.51)(1642.2,0.54)(1643.3,0.52)(1644.4,0.48)
(1645.5,0.51)(1646.6,0.52)(1647.8,0.48)(1648.9,0.51)(1650.0,0.50)(1651.1,0.51)(1652.2,0.51)(1653.3,0.58)(1654.4,0.69)(1655.5,0.60)
(1656.6,0.54)(1657.8,0.51)(1658.9,0.56)(1660.0,0.54)(1661.1,0.57)(1662.2,0.52)(1663.3,0.50)(1664.5,0.52)(1665.6,0.51)(1666.7,0.48)
(1667.8,0.45)(1668.9,0.48)(1670.0,0.52)(1671.1,0.51)(1672.2,0.48)(1673.4,0.52)(1674.5,0.60)(1675.6,0.60)(1676.7,0.54)(1677.8,0.48)
(1678.9,0.54)(1680.0,0.50)(1681.1,0.45)(1682.2,0.42)(1683.4,0.48)(1684.5,0.57)(1685.6,0.52)(1686.7,0.42)(1687.8,0.38)(1688.9,0.48)
(1690.0,0.54)(1691.1,0.51)(1692.3,0.47)(1693.4,0.42)(1694.5,0.45)(1695.6,0.51)(1696.7,0.48)(1697.8,0.42)(1698.9,0.45)(1700.0,0.51)
(1701.2,0.48)(1702.3,0.45)(1703.4,0.50)(1704.5,0.45)(1705.6,0.42)(1706.7,0.48)(1707.8,0.45)(1708.9,0.48)(1710.1,0.42)(1711.2,0.50)
(1712.3,0.47)(1713.4,0.44)(1714.5,0.39)(1715.6,0.47)(1716.7,0.51)(1717.9,0.50)(1719.0,0.47)(1720.1,0.45)(1721.2,0.42)(1722.3,0.48)
(1723.4,0.50)(1724.5,0.48)(1725.6,0.47)(1726.8,0.48)(1727.9,0.45)(1729.0,0.48)(1730.1,0.47)(1731.2,0.50)(1732.3,0.48)(1733.4,0.45)
(1734.5,0.47)(1735.7,0.48)(1736.8,0.51)(1737.9,0.48)(1739.0,0.45)(1740.1,0.48)(1741.2,0.45)(1742.3,0.48)(1743.4,0.50)(1744.6,0.47)
(1745.7,0.48)(1746.8,0.50)(1747.9,0.51)(1749.0,0.50)(1750.1,0.51)(1751.2,0.50)(1752.3,0.48)(1753.5,0.45)(1754.6,0.45)(1755.7,0.44)
(1756.8,0.42)(1757.9,0.47)(1759.0,0.48)(1760.1,0.45)(1761.2,0.47)(1762.3,0.45)
(1763.5,0.45)(1764.6,0.47)(1765.7,0.51)(1766.8,0.45)(1767.9,0.48)(1769.0,0.51)(1770.1,0.48)(1771.2,0.45)(1772.4,0.42)(1773.5,0.47)
(1774.6,0.44)(1775.7,0.36)(1776.8,0.39)(1777.9,0.45)(1779.0,0.54)(1780.2,0.58)(1781.3,0.51)(1782.4,0.45)(1783.5,0.51)(1784.6,0.48)
(1785.7,0.42)(1786.8,0.45)(1787.9,0.36)(1789.1,0.42)(1790.2,0.47)(1791.3,0.45)(1792.4,0.44)(1793.5,0.39)(1794.6,0.42)(1795.7,0.42)
(1796.8,0.33)(1798.0,0.27)(1799.1,0.38)(1800.2,0.45)(1801.3,0.39)(1802.4,0.33)(1803.5,0.42)(1804.6,0.36)(1805.7,0.42)(1806.8,0.48)
(1808.0,0.54)(1809.1,0.52)(1810.2,0.45)(1811.3,0.42)(1812.4,0.38)(1813.5,0.29)(1814.6,0.42)(1815.7,0.51)(1816.9,0.54)(1818.0,0.50)
(1819.1,0.45)(1820.2,0.42)(1821.3,0.48)(1822.4,0.45)(1823.5,0.42)(1824.6,0.48)(1825.8,0.44)(1826.9,0.42)(1828.0,0.39)(1829.1,0.42)
(1830.2,0.45)(1831.3,0.42)(1832.4,0.38)(1833.6,0.39)(1834.7,0.42)(1835.8,0.45)(1836.9,0.42)(1838.0,0.45)(1839.1,0.48)(1840.2,0.42)
(1841.3,0.39)(1842.5,0.36)(1843.6,0.39)(1844.7,0.42)(1845.8,0.36)(1846.9,0.33)(1848.0,0.36)(1849.1,0.39)(1850.2,0.33)(1851.4,0.39)
(1852.5,0.42)(1853.6,0.45)(1854.7,0.42)(1855.8,0.36)(1856.9,0.33)(1858.0,0.27)(1859.1,0.36)(1860.3,0.42)(1861.4,0.48)(1862.5,0.50)
(1863.6,0.47)(1864.7,0.45)(1865.8,0.48)(1866.9,0.42)(1868.0,0.47)(1869.2,0.45)(1870.3,0.42)(1871.4,0.44)(1872.5,0.45)(1873.6,0.48)
(1874.7,0.45)(1875.8,0.44)(1876.9,0.45)(1878.1,0.54)(1879.2,0.64)(1880.3,0.75)(1881.4,0.72)(1882.5,0.78)(1883.6,0.72)(1884.7,0.66)
(1885.8,0.57)(1886.9,0.42)(1888.1,0.45)(1889.2,0.48)(1890.3,0.57)(1891.4,0.63)(1892.5,0.72)(1893.6,0.81)(1894.7,0.63)(1895.8,0.48)
(1897.0,0.45)(1898.1,0.57)(1899.2,0.60)(1900.3,0.51)(1901.4,0.57)(1902.5,0.51)(1903.6,0.54)(1904.8,0.45)(1905.9,0.30)(1907.0,0.45)
(1908.1,0.57)(1909.2,0.63)(1910.3,0.66)(1911.4,0.69)(1912.6,0.66)(1913.7,0.69)(1914.8,0.60)(1915.9,0.51)(1917.0,0.54)(1918.1,0.51)
(1919.2,0.54)(1920.3,0.57)(1921.5,0.60)(1922.6,0.61)(1923.7,0.57)(1924.8,0.51)(1925.9,0.50)(1927.0,0.45)(1928.1,0.39)(1929.2,0.41)
(1930.4,0.39)(1931.5,0.42)(1932.6,0.41)(1933.7,0.39)(1934.8,0.42)(1935.9,0.38)(1937.0,0.33)(1938.1,0.38)(1939.3,0.39)(1940.4,0.41)
(1941.5,0.39)(1942.6,0.42)(1943.7,0.44)(1944.8,0.42)(1945.9,0.45)(1947.0,0.42)(1948.2,0.41)(1949.3,0.42)(1950.4,0.45)(1951.5,0.42)
(1952.6,0.39)(1953.7,0.36)(1954.8,0.33)(1955.9,0.39)(1957.1,0.36)(1958.2,0.33)(1959.3,0.38)(1960.4,0.36)(1961.5,0.35)(1962.6,0.33)
(1963.7,0.30)(1964.8,0.27)(1966.0,0.35)(1967.1,0.36)(1968.2,0.33)(1969.3,0.36)(1970.4,0.38)(1971.5,0.36)(1972.6,0.35)
};
\node[anchor=base west, inner sep=0pt, font=\bfseries\fontsize{12}{14}\selectfont, text=bossorange] at (axis cs:1498.7,3.713) {BOSS spectrum};
\node[anchor=base west, inner sep=0pt, font=\bfseries\fontsize{12}{14}\selectfont, text=black] at (axis cs:1498.7,3.35) {SDSS−DR7 spectrum};
\node[anchor=base west, inner sep=0pt, font=\bfseries\fontsize{12}{14}\selectfont, text=black] at (axis cs:1498.7,2.986) {z\textsubscript{em} = 3.665};
\end{axis}
\end{tikzpicture}
\end{document}
